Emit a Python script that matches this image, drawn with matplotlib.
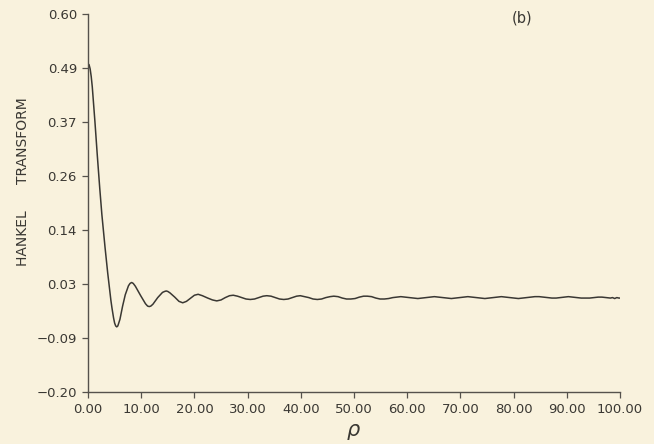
import matplotlib
matplotlib.use("Agg")
import matplotlib.pyplot as plt

# values (10 per row)
rho = [0.0, 0.2, 0.4, 0.6, 0.8, 1.05, 1.3, 1.75, 2.2, 2.6,
       3.2, 3.7, 4.0, 4.3, 4.5, 4.8, 5.0, 5.2, 5.4, 5.6,
       6.0, 6.5, 7.0, 7.6, 7.9, 8.2, 8.5, 8.9, 9.9, 10.8,
       11.2, 11.5, 11.8, 12.2, 13.1, 14.0, 14.4, 14.7, 15.0, 15.4,
       16.3, 17.1, 17.8, 18.5, 19.3, 20.0, 20.7, 21.5, 22.5, 23.4,
       24.2, 25.0, 25.8, 26.6, 27.3, 28.1, 28.9, 29.7, 30.5, 31.3,
       32.1, 32.9, 33.6, 34.4, 35.2, 36.0, 36.8, 37.6, 38.4, 39.2,
       39.9, 40.7, 41.5, 42.3, 43.1, 43.9, 44.7, 45.5, 46.2, 47.0,
       47.8, 48.6, 49.4, 50.2, 51.0, 51.8, 52.5, 53.3, 54.1, 54.9,
       55.7, 56.5, 57.3, 58.1, 58.8, 59.6, 60.4, 61.2, 62.0, 62.8,
       63.6, 64.4, 65.1, 65.9, 66.7, 67.5, 68.3, 69.1, 69.9, 70.7,
       71.4, 72.2, 73.0, 73.8, 74.6, 75.4, 76.2, 77.0, 77.7, 78.5,
       79.3, 80.1, 80.9, 81.7, 82.5, 83.3, 84.0, 84.8, 85.6, 86.4,
       87.2, 88.0, 88.8, 89.6, 90.3, 91.1, 91.9, 92.7, 93.5, 94.3,
       95.1, 95.9, 96.6, 97.4, 98.2, 98.6, 99.0, 99.4, 99.8, 100.0]
hankel = [0.495, 0.493, 0.484, 0.468, 0.446, 0.410, 0.372, 0.300, 0.232, 0.176,
          0.106, 0.052, 0.022, -0.006, -0.022, -0.043, -0.054, -0.060, -0.062, -0.060,
          -0.046, -0.018, 0.006, 0.025, 0.030, 0.032, 0.030, 0.024, 0.004, -0.013,
          -0.018, -0.019, -0.018, -0.014, 0.000, 0.011, 0.013, 0.014, 0.013, 0.010,
          0.001, -0.008, -0.011, -0.008, -0.001, 0.005, 0.007, 0.004, -0.001, -0.005,
          -0.007, -0.005, 0.000, 0.004, 0.005, 0.003, 0.000, -0.003, -0.004, -0.003,
          0.000, 0.003, 0.004, 0.003, 0.000, -0.003, -0.004, -0.003, 0.000, 0.003,
          0.004, 0.002, 0.000, -0.003, -0.004, -0.003, 0.000, 0.002, 0.003, 0.002,
          -0.001, -0.003, -0.003, -0.002, 0.001, 0.003, 0.003, 0.002, -0.001, -0.003,
          -0.003, -0.002, 0.000, 0.001, 0.002, 0.001, 0.000, -0.001, -0.002, -0.001,
          0.000, 0.001, 0.002, 0.001, 0.000, -0.001, -0.002, -0.001, 0.000, 0.001,
          0.002, 0.001, 0.000, -0.001, -0.002, -0.001, 0.000, 0.001, 0.002, 0.001,
          0.000, -0.001, -0.002, -0.001, 0.000, 0.001, 0.002, 0.002, 0.001, 0.000,
          -0.001, -0.001, 0.000, 0.001, 0.002, 0.001, 0.000, -0.001, -0.001, -0.001,
          0.000, 0.001, 0.001, 0.000, -0.001, 0.000, -0.002, 0.000, -0.001, -0.001]

x_ticks = [0, 10, 20, 30, 40, 50, 60, 70, 80, 90, 100]
x_labels = ["0.00", "10.00", "20.00", "30.00", "40.00", "50.00", "60.00",
            "70.00", "80.00", "90.00", "100.00"]
y_ticks = [-0.2 + i * 0.8 / 7 for i in range(8)]
y_labels = ["\u22120.20", "\u22120.09", "0.03", "0.14", "0.26", "0.37", "0.49", "0.60"]

bg = "#f9f2dd"
ink = "#3a3833"

fig = plt.figure(figsize=(6.54, 4.44), dpi=100, facecolor=bg)
ax = fig.add_axes([0.1346, 0.117, 0.8134, 0.851], facecolor=bg)

ax.plot(rho, hankel, color=ink, linewidth=1.1)

ax.set_xlim(0, 100)
ax.set_ylim(-0.2, 0.6)
ax.set_xticks(x_ticks)
ax.set_xticklabels(x_labels)
ax.set_yticks(y_ticks)
ax.set_yticklabels(y_labels)

for side in ["top", "right"]:
    ax.spines[side].set_visible(False)
for side in ["left", "bottom"]:
    ax.spines[side].set_color("#55524c")
    ax.spines[side].set_linewidth(1.0)
ax.tick_params(direction="out", length=4, width=0.9, color="#55524c",
               labelcolor=ink, labelsize=9.5, pad=4)

ax.set_xlabel(r"$\rho$", fontsize=15, color=ink, labelpad=4)
ax.set_ylabel("HANKEL      TRANSFORM", fontsize=10, color=ink)
ax.yaxis.set_label_coords(-0.109, 0.558)
ax.text(0.816, 0.989, "(b)", transform=ax.transAxes, fontsize=10.5,
        color=ink, ha="center", va="center")

fig.savefig("out.png", dpi=100, facecolor=bg)
